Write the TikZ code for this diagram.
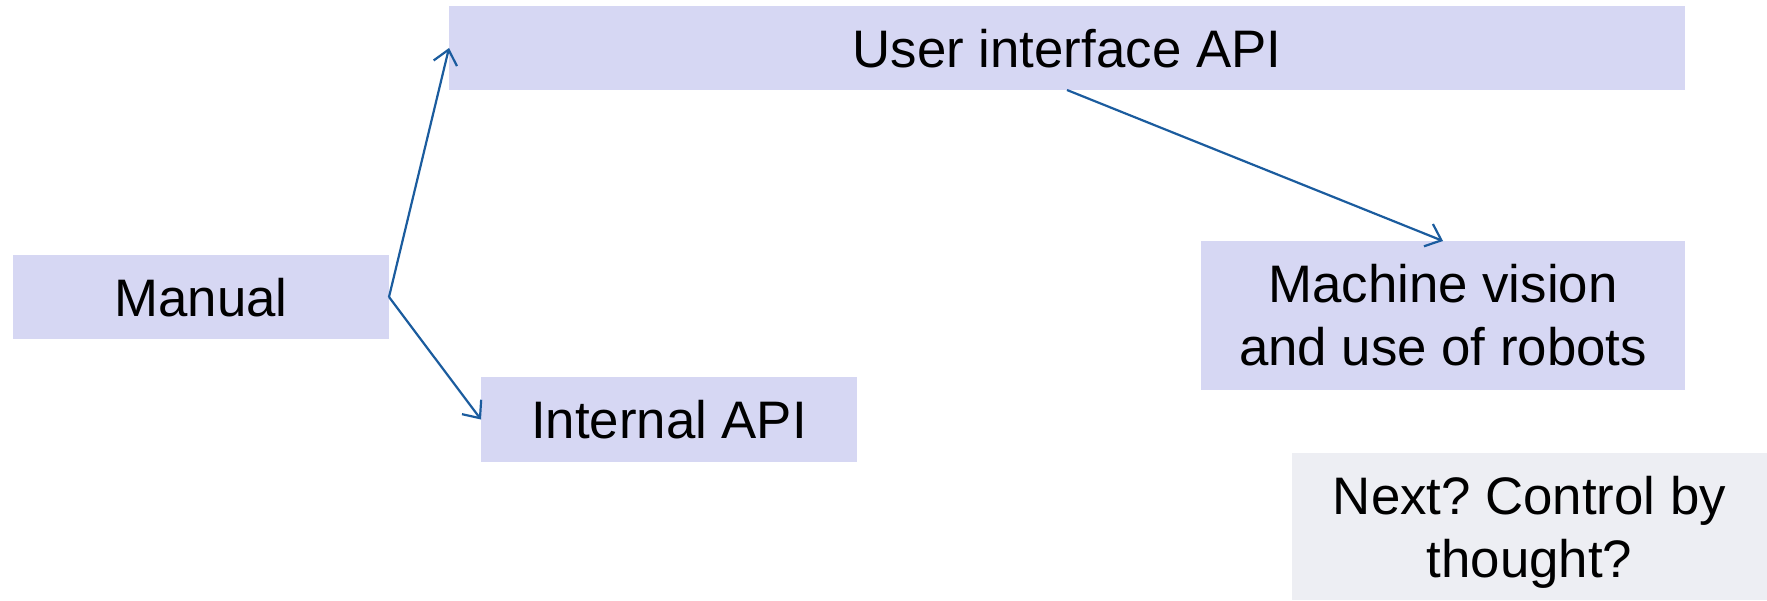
\documentclass[tikz,border=0pt]{standalone}
\usepackage{fontspec}
\setmainfont{Liberation Sans}
\usetikzlibrary{arrows.meta}
\definecolor{Cboxlilac}{HTML}{D6D7F3}
\definecolor{Cboxgrey}{HTML}{EDEEF3}
\definecolor{Carrowblue}{HTML}{1B5C9E}
\frenchspacing

\begin{document}
\begin{tikzpicture}[x=0.5pt,y=-0.5pt,
		stagebox/.style={fill=Cboxlilac,inner sep=0pt,outer sep=0pt,align=center,
			font=\fontsize{26.4}{31.5}\selectfont},
		nextbox/.style={stagebox,fill=Cboxgrey},
		flowarrow/.style={draw=Carrowblue,line width=1.1pt,
			-{Straight Barb[length=7pt,width=12pt,line width=1.1pt]}}]
			\useasboundingbox (0,0) rectangle (1767,600);
			\node[stagebox,minimum width=618pt,minimum height=42pt,text height=19pt,text depth=0pt]
			(uiapi) at (1067,48) {User interface API};
			\node[stagebox,minimum width=188pt,minimum height=42pt,text height=19pt,text depth=0pt]
			(manual) at (201,297) {Manual};
			\node[stagebox,minimum width=188pt,minimum height=42.5pt,text height=19pt,text depth=0pt]
			(internalapi) at (669,419.5) {Internal API};
			\node[stagebox,minimum width=242pt,minimum height=74.5pt]
			(vision) at (1443,315.5) {Machine vision\\and use of robots};
			\node[nextbox,minimum width=237.5pt,minimum height=73.5pt]
			(thought) at (1529.5,526.5) {Next? Control by\\\smash{thought?}};
			\draw[flowarrow] (manual.east) -- (uiapi.west);
			\draw[flowarrow] (manual.east) -- (internalapi.west);
			\draw[flowarrow] (uiapi.south) -- (vision.north);
		\end{tikzpicture}
\end{document}
